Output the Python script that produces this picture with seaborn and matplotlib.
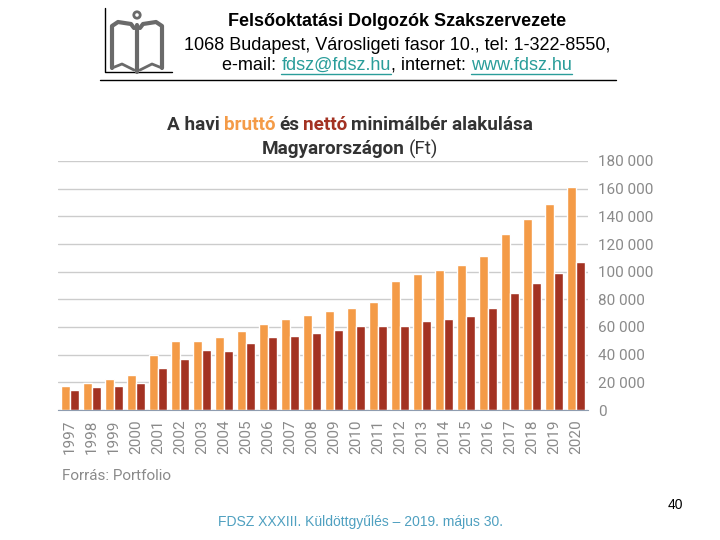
import pandas as pd
import matplotlib.pyplot as plt
import seaborn as sns
from matplotlib.patches import Circle

# Adatok (Ft / hó)
years = [str(y) for y in range(1997, 2021)]
brutto = [17000, 19500, 22500, 25500, 40000, 50000, 50000, 53000, 57000, 62500,
          65500, 69000, 71500, 73500, 78000, 93000, 98000, 101500, 105000, 111000,
          127500, 138000, 149000, 161000]
netto = [14500, 16700, 17400, 19600, 30500, 37000, 43600, 43000, 48700, 53000,
         53800, 56000, 57500, 60400, 60400, 60400, 64000, 66000, 68000, 73500,
         84300, 91700, 99000, 107000]
yticks = [0, 20000, 40000, 60000, 80000, 100000, 120000, 140000, 160000, 180000]

ORANGE = "#F49B47"
RED = "#A33222"
TXT = "#333333"
GREY = "#8a8a8a"

df = pd.DataFrame({
    "ev": years * 2,
    "ertek": brutto + netto,
    "tipus": ["bruttó"] * len(years) + ["nettó"] * len(years),
})

sns.set_style("white")
plt.rcParams["font.family"] = ["Roboto", "DejaVu Sans"]

fig = plt.figure(figsize=(7.2, 5.4), dpi=100)

# overlay a fejléchez (pixel koordináták)
ov = fig.add_axes([0, 0, 1, 1])
ov.set_xlim(0, 720)
ov.set_ylim(540, 0)
ov.axis("off")

ax = fig.add_axes([58 / 720, 1 - 410 / 540, 530 / 720, 249 / 540])
sns.barplot(data=df, x="ev", y="ertek", hue="tipus", palette=[ORANGE, RED],
            width=0.84, gap=0, saturation=1, ax=ax, legend=False)
ax.set_ylim(0, 180000)
ax.set_yticks(yticks)
ax.set_yticklabels([f"{v:,}".replace(",", " ") for v in yticks], color=GREY, fontsize=11)
ax.yaxis.tick_right()
ax.tick_params(axis="both", length=0)
ax.tick_params(axis="y", pad=7)
ax.tick_params(axis="x", pad=7)
ax.set_xlim(-0.55, len(years) - 0.45)
plt.setp(ax.get_xticklabels(), rotation=90, color=GREY, fontsize=11)
ax.grid(axis="y", color="#cccccc", linewidth=1)
ax.set_axisbelow(True)
for s in ["left", "right", "top"]:
    ax.spines[s].set_visible(False)
ax.spines["bottom"].set_color("#8f9db0")
ax.set_xlabel("")
ax.set_ylabel("")

# cím több színnel
renderer = fig.canvas.get_renderer()


def colored_line(parts, y, size, cx=350):
    texts = []
    for s, c, w in parts:
        t = ov.text(0, y, s, color=c, fontsize=size, fontweight=w, va="center", ha="left")
        texts.append(t)
    widths = [t.get_window_extent(renderer).width for t in texts]
    space = size * 0.27
    total = sum(widths) + space * (len(parts) - 1)
    x = cx - total / 2
    for t, w in zip(texts, widths):
        t.set_x(x)
        x += w + space


colored_line([("A havi", TXT, "bold"), ("bruttó", ORANGE, "bold"), ("és", TXT, "bold"),
              ("nettó", RED, "bold"), ("minimálbér alakulása", TXT, "bold")], 125, 13.6)
colored_line([("Magyarországon", TXT, "bold"), ("(Ft)", TXT, "normal")], 149, 13.6)

ov.text(62, 476, "Forrás: Portfolio", color=GREY, fontsize=11, va="center")

# fejléc
hdr = ["Liberation Sans", "DejaVu Sans"]
ov.text(397, 21, "Felsőoktatási Dolgozók Szakszervezete", family=hdr, fontsize=13,
        fontweight="bold", ha="center", va="center", color="black")
ov.text(397, 45, "1068 Budapest, Városligeti fasor 10., tel: 1-322-8550,", family=hdr,
        fontsize=13, ha="center", va="center", color="black")
colored = [("e-mail: ", "black", False), ("fdsz@fdsz.hu", "#2a9d9a", True),
           (", internet: ", "black", False), ("www.fdsz.hu", "#2a9d9a", True)]
tt = [ov.text(0, 65, s, family=hdr, fontsize=13, color=c, va="center", ha="left")
      for s, c, u in colored]
ws = [t.get_window_extent(renderer).width for t in tt]
x = 397 - sum(ws) / 2
for t, w, (s, c, u) in zip(tt, ws, colored):
    t.set_x(x)
    if u:
        ov.plot([x, x + w], [74, 74], color=c, lw=1)
    x += w
ov.plot([100, 616], [80, 80], color="black", lw=1)

# logó
lg = "#6a6a6a"
ov.plot([105, 105, 172], [8, 72, 72], color="black", lw=1)
ov.add_patch(Circle((137, 15), 3.2, fill=False, ec=lg, lw=2))
ov.plot([137, 137], [25, 72], color=lg, lw=3)
ov.plot([112, 112, 118, 131, 134], [68, 26, 22, 24, 28], color=lg, lw=3)
ov.plot([162, 162, 156, 143, 140], [68, 26, 22, 24, 28], color=lg, lw=3)
ov.plot([112, 122, 134], [68, 64, 70], color=lg, lw=2)
ov.plot([162, 152, 140], [68, 64, 70], color=lg, lw=2)

# lábléc
ov.text(218, 522, "FDSZ XXXIII. Küldöttgyűlés – 2019. május 30.", family=hdr,
        fontsize=10, color="#4fa0c0", va="center")
ov.text(668, 505, "40", family=hdr, fontsize=10, color="black", va="center")

fig.savefig("out.png", dpi=100)
